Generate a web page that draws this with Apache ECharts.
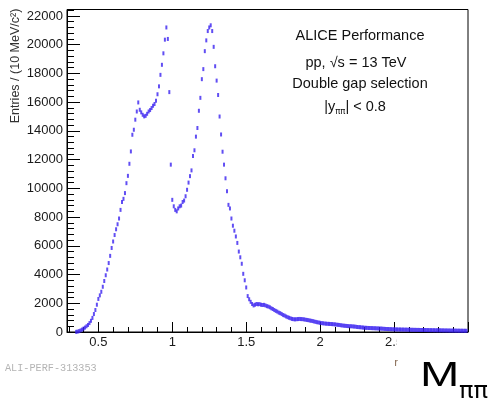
<!DOCTYPE html>
<html><head><meta charset="utf-8">
<script src="https://cdn.jsdelivr.net/npm/echarts@6/dist/echarts.min.js"></script>
<style>html,body{margin:0;padding:0;background:#fff}#c{width:495px;height:405px}</style>
</head><body><div id="c"></div>
<script>
// Histogram: M_pipi, 10 MeV bins, first bin centre 0.35 GeV
const binLow = 0.35;
const binWidth = 0.01;
const counts = [
  10, 30, 60, 110, 170, 240, 310, 400, 490, 620,
  780, 980, 1250, 1530, 1900, 2300, 2550, 2800, 3150, 3550,
  3950, 4350, 4800, 5300, 5850, 6300, 6750, 7150, 7500, 7900,
  8500, 9050, 9270, 9670, 10360, 10870, 11710, 12570, 13730, 14080,
  14780, 15350, 15980, 15470, 15290, 15120, 15010, 15050, 15190, 15350,
  15450, 15590, 15750, 15870, 16100, 16550, 17100, 17900, 18600, 19400,
  20350, 21200, 20400, 16700, 11650, 9200, 8750, 8500, 8400, 8600,
  8750, 8800, 9050, 9150, 9450, 9900, 10400, 10850, 11250, 12250,
  12650, 13600, 14200, 15400, 16300, 17600, 18300, 19550, 20300, 20950,
  21200, 21350, 20950, 19850, 18500, 17500, 16500, 15000, 13750, 12550,
  11650, 10700, 9800, 8850, 8600, 7900, 7400, 7050, 6650, 6200,
  5600, 5200, 4750, 4050, 3600, 3100, 2500, 2280, 2100, 1950,
  1850, 1900, 1950, 1930, 1940, 1900, 1880, 1890, 1850, 1800,
  1770, 1720, 1650, 1600, 1530, 1470, 1420, 1350, 1310, 1250,
  1180, 1140, 1080, 1030, 990, 950, 910, 890, 880, 890,
  900, 910, 900, 895, 880, 860, 840, 825, 800, 780,
  760, 730, 705, 680, 660, 640, 620, 605, 590, 580,
  570, 565, 555, 550, 540, 530, 515, 500, 490, 470,
  455, 440, 430, 420, 410, 400, 400, 390, 380, 370,
  350, 340, 335, 320, 310, 300, 290, 285, 280, 275,
  270, 265, 262, 255, 250, 245, 240, 232, 222, 215,
  210, 206, 200, 196, 190, 186, 183, 180, 176, 175,
  172, 170, 166, 165, 162, 160, 158, 154, 153, 150,
  148, 147, 144, 141, 140, 138, 136, 135, 132, 130,
  128, 127, 124, 122, 121, 118, 116, 115, 112, 110,
  108, 107, 104, 102, 101, 98, 97, 95, 93, 92,
  90, 89, 88, 86, 85
];
const xRange = [0.288, 3.0];
const yRange = [0, 22450];
const xMajorTicks = [0.5, 1, 1.5, 2, 2.5, 3];
const xTickLabels = [0.5, 1, 1.5, 2, 2.5];
const xMinorTicks = [0.3, 0.4, 0.6, 0.7, 0.8, 0.9, 1.1, 1.2, 1.3, 1.4, 1.6, 1.7, 1.8, 1.9,
                     2.1, 2.2, 2.3, 2.4, 2.6, 2.7, 2.8, 2.9];
const infoLines = ['ALICE Performance', 'pp, √s = 13 TeV', 'Double gap selection'];
const yTitle = 'Entries / (10 MeV/c²)';
const figId = 'ALI-PERF-313353';

const data = counts.map((v, i) => [+(binLow + i * binWidth).toFixed(3), v]);
const FONT = '"Liberation Sans", Arial, sans-serif';
const GREEK = '"DejaVu Sans", "Noto Sans", sans-serif';
const G = { left: 67, right: 27, top: 9.5, bottom: 73 };

const chart = echarts.init(document.getElementById('c'), null, { renderer: 'canvas' });
chart.setOption({
  animation: false,
  backgroundColor: '#fff',
  grid: [
    Object.assign({ show: true, borderColor: '#000', borderWidth: 1, backgroundColor: 'transparent' }, G),
    Object.assign({}, G)
  ],
  xAxis: [
    { gridIndex: 0, type: 'value', min: xRange[0], max: xRange[1],
      axisLine: { lineStyle: { color: '#000', width: 1 } },
      axisTick: { inside: true, length: 10, customValues: xMajorTicks, lineStyle: { color: '#000', width: 1 } },
      axisLabel: { customValues: xTickLabels, margin: 4, fontSize: 13,
        color: '#1a1a1a', fontFamily: FONT, formatter: v => String(v) },
      splitLine: { show: false } },
    { gridIndex: 1, type: 'value', min: xRange[0], max: xRange[1],
      axisLine: { show: false },
      axisTick: { inside: true, length: 5, customValues: xMinorTicks, lineStyle: { color: '#000', width: 1 } },
      axisLabel: { show: false }, splitLine: { show: false } }
  ],
  yAxis: [
    { gridIndex: 0, type: 'value', min: yRange[0], max: yRange[1], interval: 2000,
      axisLine: { show: true, lineStyle: { color: '#000', width: 1 } },
      axisTick: { show: true, inside: true, length: 13, lineStyle: { color: '#000', width: 1 } },
      axisLabel: { showMaxLabel: false, margin: 4, fontSize: 13, color: '#1a1a1a',
        fontFamily: FONT, formatter: v => String(v) },
      splitLine: { show: false } },
    { gridIndex: 1, type: 'value', min: yRange[0], max: yRange[1], interval: 400,
      axisLine: { show: false },
      axisTick: { show: true, inside: true, length: 7, lineStyle: { color: '#000', width: 1 } },
      axisLabel: { show: false }, splitLine: { show: false } }
  ],
  series: [{
    type: 'scatter', xAxisIndex: 0, yAxisIndex: 0, data: data,
    symbol: 'rect', symbolSize: [2, 4],
    itemStyle: { color: '#3a22f0' }, z: 5
  }],
  graphic: [
    { type: 'text', x: 16, y: 66, rotation: Math.PI / 2,
      style: { text: yTitle, fontSize: 12.5, fill: '#333', align: 'center', verticalAlign: 'middle', fontFamily: FONT } },
    { type: 'text', x: 360, y: 36, style: { text: infoLines[0], fontSize: 14.5, fill: '#111', align: 'center', verticalAlign: 'middle', fontFamily: FONT } },
    { type: 'text', x: 356, y: 62.5, style: { text: infoLines[1], fontSize: 14.5, fill: '#111', align: 'center', verticalAlign: 'middle', fontFamily: FONT } },
    { type: 'text', x: 360, y: 83.5, style: { text: infoLines[2], fontSize: 14.5, fill: '#111', align: 'center', verticalAlign: 'middle', fontFamily: FONT } },
    { type: 'text', x: 355, y: 107, style: {
        text: '{n||y}{s|ππ}{n|| < 0.8}', align: 'center', verticalAlign: 'middle',
        rich: {
          n: { fontSize: 14.5, lineHeight: 18, fill: '#111', fontFamily: FONT },
          s: { fontSize: 8.5, lineHeight: 9, verticalAlign: 'bottom', fill: '#111', fontFamily: GREEK }
        } } },
    { type: 'text', x: 5, y: 368, style: { text: figId, fontSize: 10.2, fill: '#b4b4b4', align: 'left', verticalAlign: 'middle', fontFamily: '"Liberation Mono", monospace' } },
    { type: 'rect', z: 100, shape: { x: 397, y: 334.5, width: 98, height: 71 }, style: { fill: '#fff' } },
    { type: 'text', z: 101, x: 394.5, y: 363, style: { text: 'r', fontSize: 10, fill: '#7a5a40', align: 'left', verticalAlign: 'middle', fontFamily: FONT } },
    { type: 'text', z: 101, x: 420, y: 376, scaleX: 1.35, style: { text: 'M', fontSize: 35, fill: '#000', align: 'left', verticalAlign: 'middle', fontFamily: FONT } },
    { type: 'text', z: 101, x: 459, y: 392, scaleX: 1.05, style: { text: 'ππ', fontSize: 23, fill: '#000', align: 'left', verticalAlign: 'middle', fontFamily: GREEK } }
  ]
});
</script>
</body></html>
